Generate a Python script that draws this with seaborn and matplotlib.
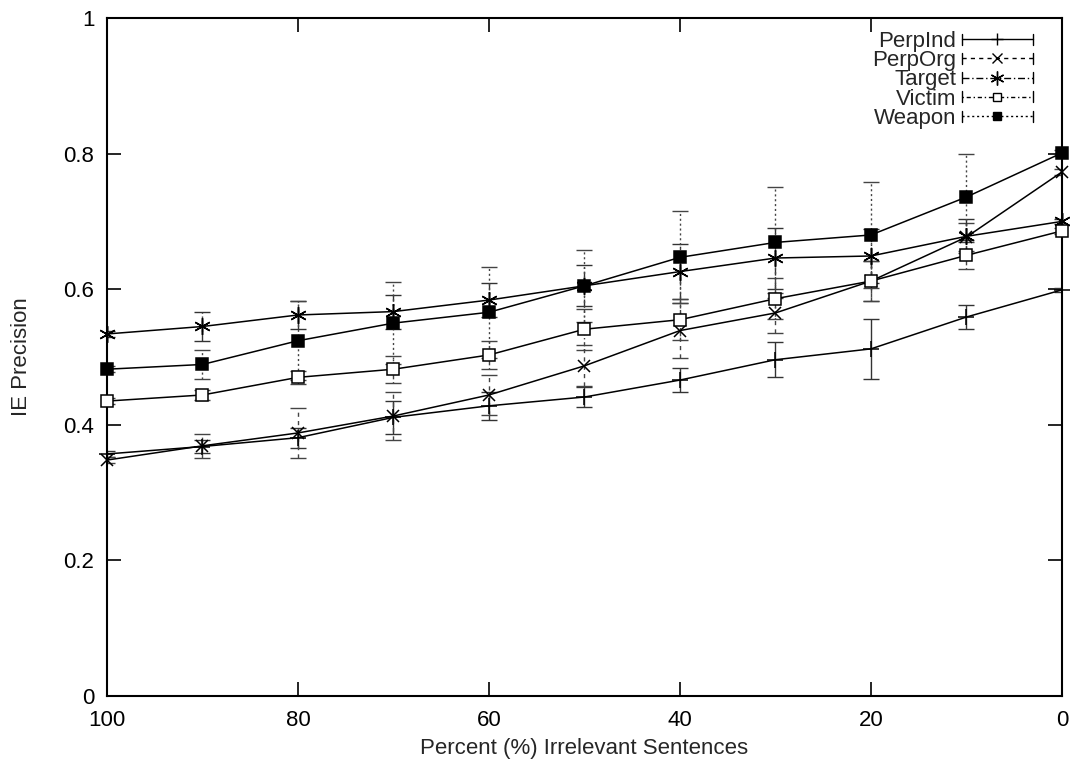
import matplotlib
matplotlib.use("Agg")
import matplotlib.pyplot as plt
from matplotlib import font_manager
from matplotlib.lines import Line2D
from matplotlib.legend_handler import HandlerBase
import seaborn as sns
import pandas as pd
import numpy as np

# Percent of irrelevant sentences (x axis, shown decreasing)
percent = [100, 90, 80, 70, 60, 50, 40, 30, 20, 10, 0]

# Mean IE precision per slot
perpind = [0.357, 0.368, 0.381, 0.411, 0.428, 0.441, 0.466, 0.496, 0.512, 0.559, 0.599]
perporg = [0.348, 0.369, 0.388, 0.413, 0.444, 0.487, 0.539, 0.565, 0.612, 0.677, 0.773]
target = [0.534, 0.545, 0.562, 0.567, 0.584, 0.605, 0.626, 0.646, 0.649, 0.678, 0.700]
victim = [0.435, 0.444, 0.470, 0.482, 0.503, 0.541, 0.555, 0.586, 0.612, 0.650, 0.686]
weapon = [0.482, 0.489, 0.524, 0.550, 0.566, 0.605, 0.647, 0.669, 0.680, 0.736, 0.801]

# Error-bar half widths
perpind_err = [0.004, 0.010, 0.015, 0.024, 0.021, 0.015, 0.018, 0.026, 0.044, 0.018, 0.003]
perporg_err = [0.004, 0.018, 0.037, 0.035, 0.030, 0.030, 0.040, 0.030, 0.030, 0.020, 0.004]
target_err = [0.004, 0.021, 0.020, 0.025, 0.025, 0.030, 0.040, 0.045, 0.040, 0.025, 0.004]
victim_err = [0.004, 0.008, 0.010, 0.020, 0.020, 0.030, 0.030, 0.030, 0.030, 0.020, 0.004]
weapon_err = [0.004, 0.021, 0.058, 0.061, 0.067, 0.053, 0.068, 0.082, 0.078, 0.064, 0.004]

series_names = ["PerpInd", "PerpOrg", "Target", "Victim", "Weapon"]
series_vals = [perpind, perporg, target, victim, weapon]
series_errs = [perpind_err, perporg_err, target_err, victim_err, weapon_err]

x_ticks = [100, 80, 60, 40, 20, 0]
y_ticks = [0, 0.2, 0.4, 0.6, 0.8, 1]
y_tick_labels = ["0", "0.2", "0.4", "0.6", "0.8", "1"]

sns.set_style("ticks")
available = {f.name for f in font_manager.fontManager.ttflist}
if "Liberation Sans Narrow" in available:
    plt.rcParams["font.family"] = ["Liberation Sans Narrow", "DejaVu Sans"]
else:
    plt.rcParams["font.family"] = ["Liberation Sans", "DejaVu Sans"]

FS = 16

star = (6, 2, 0)
markers = {"PerpInd": "+", "PerpOrg": "x", "Target": star, "Victim": "s", "Weapon": "s"}
marker_sizes = {"PerpInd": 11, "PerpOrg": 9, "Target": 12, "Victim": 8, "Weapon": 8}
face = {"PerpInd": "black", "PerpOrg": "black", "Target": "black", "Victim": "white", "Weapon": "black"}
err_styles = {
    "PerpInd": "-",
    "PerpOrg": (0, (3, 3)),
    "Target": (0, (5, 2, 1, 2)),
    "Victim": (0, (1, 2, 3, 2)),
    "Weapon": (0, (1.5, 2)),
}
err_colors = {"PerpInd": "#333333", "PerpOrg": "#444444", "Target": "#333333",
              "Victim": "#444444", "Weapon": "#444444"}

df = pd.DataFrame({
    "percent": np.tile(percent, len(series_names)),
    "precision": np.concatenate(series_vals),
    "err": np.concatenate(series_errs),
    "series": np.repeat(series_names, len(percent)),
})

fig = plt.figure(figsize=(10.70, 7.63), dpi=100)
ax = fig.add_axes([0.1, 0.0878, 0.8925, 0.8886])

# Error bars first, then the connecting lines and markers on top
for name in series_names:
    sub = df[df["series"] == name]
    eb = ax.errorbar(sub["percent"], sub["precision"], yerr=sub["err"], fmt="none",
                     ecolor=err_colors[name], elinewidth=1.0, capsize=6, capthick=1.0, zorder=2)
    for col in eb.lines[2]:
        col.set_linestyle(err_styles[name])

sns.lineplot(data=df, x="percent", y="precision", hue="series", units="series",
             estimator=None, palette=["black"] * 5, legend=False, ax=ax,
             linewidth=1.1, zorder=3)

for name in series_names:
    sub = df[df["series"] == name]
    ax.plot(sub["percent"], sub["precision"], linestyle="none", marker=markers[name],
            markersize=marker_sizes[name], markerfacecolor=face[name],
            markeredgecolor="black", markeredgewidth=1.1, zorder=4, clip_on=False)

ax.set_xlim(100, 0)
ax.set_ylim(0, 1)
ax.set_xticks(x_ticks)
ax.set_xticklabels([str(t) for t in x_ticks])
ax.set_yticks(y_ticks)
ax.set_yticklabels(y_tick_labels)
ax.tick_params(direction="in", length=10, width=1.2, top=True, right=True,
               labelsize=FS, colors="black")
ax.tick_params(axis="x", pad=10)
ax.tick_params(axis="y", pad=9)
for s in ax.spines.values():
    s.set_visible(True)
    s.set_linewidth(1.5)
    s.set_color("black")

ax.set_xlabel("Percent (%) Irrelevant Sentences", fontsize=FS, labelpad=5)
ax.set_ylabel("IE Precision", fontsize=FS)
ax.yaxis.set_label_coords(-0.079, 0.5)


class CappedSample(HandlerBase):
    """Legend sample: styled line with end caps and the series marker in the middle."""

    def __init__(self, style, **kw):
        super().__init__(**kw)
        self.style = style

    def create_artists(self, legend, orig_handle, xdescent, ydescent, width, height,
                       fontsize, trans):
        y = height / 2 - ydescent
        x0, x1 = -xdescent, -xdescent + width
        cap = 4.0
        line = Line2D([x0, x1], [y, y], color="black", linewidth=1.0, linestyle=self.style)
        cap_l = Line2D([x0, x0], [y - cap, y + cap], color="black", linewidth=1.0)
        cap_r = Line2D([x1, x1], [y - cap, y + cap], color="black", linewidth=1.0)
        mark = Line2D([(x0 + x1) / 2], [y], linestyle="none",
                      marker=orig_handle.get_marker(),
                      markersize=orig_handle.get_markersize(),
                      markerfacecolor=orig_handle.get_markerfacecolor(),
                      markeredgecolor="black", markeredgewidth=1.0)
        arts = [line, cap_l, cap_r, mark]
        for a in arts:
            a.set_transform(trans)
        return arts


handles = []
handler_map = {}
for name in series_names:
    h = Line2D([0], [0], color="black", linewidth=1.0,
               marker=markers[name], markersize=marker_sizes[name] - 2,
               markerfacecolor=face[name], markeredgecolor="black")
    handles.append(h)
    handler_map[h] = CappedSample(err_styles[name])

leg = ax.legend(handles, series_names, loc="upper right", bbox_to_anchor=(0.979, 0.994),
                frameon=False, markerfirst=False, fontsize=FS, handlelength=3.2,
                labelspacing=-0.08, handletextpad=0.25, borderaxespad=0.0,
                handler_map=handler_map)
for t in leg.get_texts():
    t.set_ha("right")

fig.savefig("out.png", dpi=100)
